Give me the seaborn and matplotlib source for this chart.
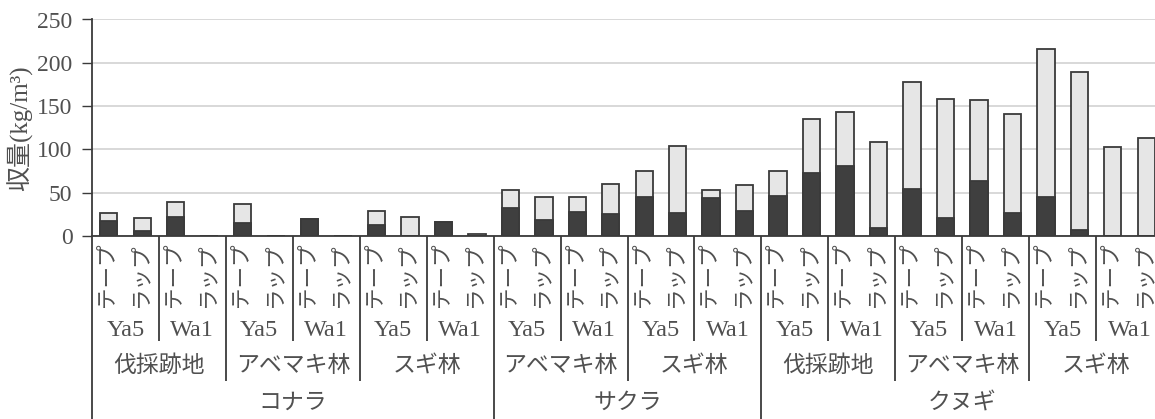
import numpy as np
import pandas as pd
import matplotlib
matplotlib.use("Agg")
import matplotlib.pyplot as plt
import seaborn as sns
from matplotlib import transforms as mtransforms

# ---------------- data ----------------
species = ["コナラ", "サクラ", "クヌギ"]
species_sites = [["伐採跡地", "アベマキ林", "スギ林"],
                 ["アベマキ林", "スギ林"],
                 ["伐採跡地", "アベマキ林", "スギ林"]]
strains = ["Ya5", "Wa1"]
methods = ["テープ", "ラップ"]

# dark (lower) part of each stacked bar
dark_yield = [17.7, 5.8, 21.5, 0.5, 15.4, 0.0, 19.6, 0.5, 12.7, 0.0, 16.2, 0.0,
              32.7, 18.5, 27.7, 25.0, 45.4, 26.5, 43.5, 28.8,
              46.0, 72.5, 80.8, 9.2, 54.6, 20.4, 63.0, 26.5, 45.4, 7.3, 0.0, 0.0]
# light (upper) part of each stacked bar
light_yield = [8.3, 14.6, 18.1, 0.0, 21.5, 0.0, 0.0, 0.0, 16.1, 21.9, 0.0, 2.3,
               20.3, 26.9, 16.9, 34.6, 29.2, 77.3, 9.5, 29.7,
               29.0, 63.0, 61.9, 99.3, 122.7, 137.3, 93.5, 114.3, 170.6, 181.7, 103.0, 112.7]

y_ticks = [0, 50, 100, 150, 200, 250]
y_label = "収量(kg/m³)"

# ---------------- build table ----------------
rows = []
for sp, sites in zip(species, species_sites):
    for site in sites:
        for st in strains:
            for m in methods:
                rows.append((sp, site, st, m))
df = pd.DataFrame(rows, columns=["species", "site", "strain", "method"])
df["dark"] = dark_yield
df["light"] = light_yield
df["total"] = df["dark"] + df["light"]
df["pos"] = [str(i) for i in range(len(df))]
order = list(df["pos"])
n = len(df)

# ---------------- style ----------------
sns.set_theme(style="white")
plt.rcParams["font.family"] = ["Liberation Serif", "Noto Sans CJK JP", "DejaVu Sans"]
TXT = "#505050"
EDGE = "#3a3a3a"

W, H = 1155, 419
fig = plt.figure(figsize=(W / 100, H / 100), dpi=100)
ax_left = 92 / W
ax_right = 1163 / W
ax_bottom = 1 - 236 / H
ax_top = 1 - 19.5 / H
ax = fig.add_axes([ax_left, ax_bottom, ax_right - ax_left, ax_top - ax_bottom])

sns.barplot(data=df, x="pos", y="total", order=order, color="#e6e6e6",
            edgecolor=EDGE, linewidth=1.3, width=0.52, errorbar=None,
            saturation=1, ax=ax)
sns.barplot(data=df, x="pos", y="dark", order=order, color="#3f3f3f",
            edgecolor=EDGE, linewidth=1.3, width=0.52, errorbar=None,
            saturation=1, ax=ax)

ax.set_xlim(-0.5, n - 0.5)
ax.set_ylim(0, 250)
ax.set_yticks(y_ticks)
ax.set_yticklabels([str(v) for v in y_ticks], fontsize=17, color=TXT)
ax.tick_params(axis="y", direction="out", length=7, width=1, color=EDGE, pad=7, left=True)
ax.tick_params(axis="x", bottom=False, labelbottom=False)
ax.set_xlabel("")
ax.set_ylabel("")
ax.yaxis.grid(True, color="#d2d2d2", linewidth=1.2)
ax.set_axisbelow(True)
for s in ["top", "right"]:
    ax.spines[s].set_visible(False)
ax.spines["left"].set_color(EDGE)
ax.spines["left"].set_linewidth(1.3)
ax.spines["bottom"].set_color(EDGE)
ax.spines["bottom"].set_linewidth(1.3)

fig.text(20 / W, 1 - 128 / H, y_label, rotation=90, ha="center", va="center",
         fontsize=18, color=TXT)

# ---------------- hierarchical category labels ----------------
tr = mtransforms.blended_transform_factory(ax.transData, fig.transFigure)


def fy(px):
    return 1 - px / H


for i, row in df.iterrows():
    ax.text(i, fy(275), row["method"], transform=tr, rotation=90, ha="center",
            va="center", fontsize=15.5, color=TXT, clip_on=False)

for k in range(n // 2):
    ax.text(2 * k + 0.5, fy(330), df["strain"].iloc[2 * k], transform=tr,
            ha="center", va="center", fontsize=17.5, color=TXT)

for k in range(n // 4):
    ax.text(4 * k + 1.5, fy(366), df["site"].iloc[4 * k], transform=tr,
            ha="center", va="center", fontsize=16.5, color=TXT)

start = 0
species_bounds = []
for sp, sites in zip(species, species_sites):
    cnt = len(sites) * 4
    ax.text(start + (cnt - 1) / 2, fy(403), sp, transform=tr,
            ha="center", va="center", fontsize=16.5, color=TXT)
    start += cnt
    species_bounds.append(start)


def vline(xd, y0, y1):
    ax.plot([xd, xd], [fy(y0), fy(y1)], transform=tr, color=EDGE,
            linewidth=1.3, clip_on=False, solid_capstyle="butt")


vline(-0.5, 236, 419)
for b in range(2, n, 2):
    xb = b - 0.5
    if b in species_bounds:
        vline(xb, 236, 419)
    elif b % 4 == 0:
        vline(xb, 236, 381)
    else:
        vline(xb, 236, 341)

fig.savefig("out.png", dpi=100)
